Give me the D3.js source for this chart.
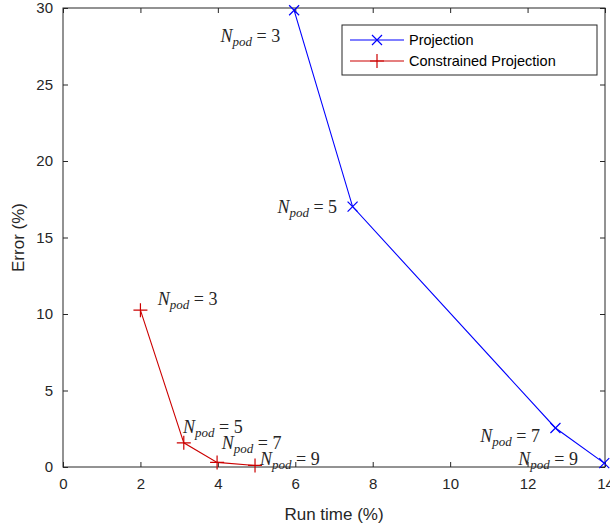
<!DOCTYPE html>
<html><head><meta charset="utf-8">
<script src="https://cdn.jsdelivr.net/npm/d3@7"></script>
<style>body{margin:0;background:#fff}svg{display:block}</style>
</head><body><svg id="c" width="610" height="529"></svg>
<script>
// ---- data ----
const projRunTime = [5.97, 7.48, 12.72, 13.98];
const projError   = [29.85, 17.02, 2.55, 0.25];
const conRunTime  = [2.0, 3.12, 3.98, 4.96];
const conError    = [10.25, 1.58, 0.3, 0.1];
const podCounts   = [3, 5, 7, 9];
// label anchors (data coordinates)
const projLabelX = [5.61, 7.08, 12.32, 13.3];
const projLabelY = [28.1, 16.93, 1.96, 0.46];
const conLabelX  = [2.45, 3.1, 4.1, 5.09];
const conLabelY  = [10.9, 2.55, 1.5, 0.46];
const xTicks = [0, 2, 4, 6, 8, 10, 12, 14];
const yTicks = [0, 5, 10, 15, 20, 25, 30];
const seriesNames = ["Projection", "Constrained Projection"];

const svg = d3.select("#c");
const L = 63, R = 605, T = 8, B = 467;
const x = d3.scaleLinear().domain([0, 14]).range([L, R]);
const y = d3.scaleLinear().domain([0, 30]).range([B, T]);
const axisCol = "#262626";
const sans = "'Liberation Sans', Arial, sans-serif";

// frame
svg.append("rect").attr("x", L).attr("y", T).attr("width", R - L).attr("height", B - T)
  .attr("fill", "none").attr("stroke", axisCol).attr("stroke-width", 1);

function styleAxis(g) {
  g.select(".domain").remove();
  g.selectAll("line").attr("stroke", axisCol);
  g.selectAll("text").attr("fill", axisCol).style("font-family", sans).style("font-size", "15px");
}
svg.append("g").attr("transform", `translate(0,${B})`)
  .call(d3.axisBottom(x).tickValues(xTicks).tickSizeInner(-5).tickSizeOuter(0).tickPadding(11))
  .call(styleAxis);
svg.append("g").attr("transform", `translate(0,${T})`)
  .call(d3.axisTop(x).tickValues(xTicks).tickSizeInner(-5).tickSizeOuter(0).tickFormat(""))
  .call(styleAxis);
svg.append("g").attr("transform", `translate(${L},0)`)
  .call(d3.axisLeft(y).tickValues(yTicks).tickSizeInner(-5).tickSizeOuter(0).tickPadding(10))
  .call(styleAxis);
svg.append("g").attr("transform", `translate(${R},0)`)
  .call(d3.axisRight(y).tickValues(yTicks).tickSizeInner(-5).tickSizeOuter(0).tickFormat(""))
  .call(styleAxis);

// axis labels
svg.append("text").attr("x", (L + R) / 2).attr("y", 520).attr("text-anchor", "middle")
  .attr("fill", axisCol).style("font-family", sans).style("font-size", "17px").text("Run time (%)");
svg.append("text").attr("transform", `translate(24,${(T + B) / 2}) rotate(-90)`).attr("text-anchor", "middle")
  .attr("fill", axisCol).style("font-family", sans).style("font-size", "17px").text("Error (%)");

const blue = "#0000ff", red = "#cc0000";
const line = d3.line().x(d => x(d[0])).y(d => y(d[1]));
const projPts = projRunTime.map((v, i) => [v, projError[i]]);
const conPts = conRunTime.map((v, i) => [v, conError[i]]);

function xMarker(g, px, py, col, s) {
  g.append("path").attr("d", `M${px - s},${py - s}L${px + s},${py + s}M${px - s},${py + s}L${px + s},${py - s}`)
    .attr("stroke", col).attr("stroke-width", 1.2).attr("fill", "none");
}
function plusMarker(g, px, py, col, s) {
  g.append("path").attr("d", `M${px - s},${py}L${px + s},${py}M${px},${py - s}L${px},${py + s}`)
    .attr("stroke", col).attr("stroke-width", 1.2).attr("fill", "none");
}

svg.append("path").datum(projPts).attr("d", line).attr("fill", "none").attr("stroke", blue).attr("stroke-width", 1.1);
svg.append("path").datum(conPts).attr("d", line).attr("fill", "none").attr("stroke", red).attr("stroke-width", 1.1);
const mg = svg.append("g");
projPts.forEach(p => xMarker(mg, x(p[0]), y(p[1]), blue, 5));
conPts.forEach(p => plusMarker(mg, x(p[0]), y(p[1]), red, 7));

// N_pod labels
const serif = "'Liberation Serif', 'DejaVu Serif', serif";
function podLabel(px, py, n, anchor) {
  const t = svg.append("text").attr("x", px).attr("y", py + 5).attr("text-anchor", anchor)
    .attr("fill", "#262626").style("font-family", serif).style("font-size", "18px");
  t.append("tspan").style("font-style", "italic").text("N");
  t.append("tspan").attr("dy", 4).style("font-style", "italic").style("font-size", "13px").text("pod");
  t.append("tspan").attr("dy", -4).text(" = " + n);
}
podCounts.forEach((n, i) => podLabel(x(projLabelX[i]), y(projLabelY[i]), n, "end"));
podCounts.forEach((n, i) => podLabel(x(conLabelX[i]), y(conLabelY[i]), n, "start"));

// legend
const lg = svg.append("g");
lg.append("rect").attr("x", 342).attr("y", 25).attr("width", 255).attr("height", 50)
  .attr("fill", "#fff").attr("stroke", axisCol).attr("stroke-width", 1);
[[blue, "x"], [red, "+"]].forEach((d, i) => {
  const yy = 40 + i * 21;
  lg.append("line").attr("x1", 350).attr("x2", 404).attr("y1", yy).attr("y2", yy).attr("stroke", d[0]).attr("stroke-width", 1.1);
  if (d[1] === "x") xMarker(lg, 377, yy, d[0], 5); else plusMarker(lg, 377, yy, d[0], 7);
  lg.append("text").attr("x", 409).attr("y", yy + 5).attr("fill", "#000")
    .style("font-family", sans).style("font-size", "14.5px").text(seriesNames[i]);
});
</script></body></html>
